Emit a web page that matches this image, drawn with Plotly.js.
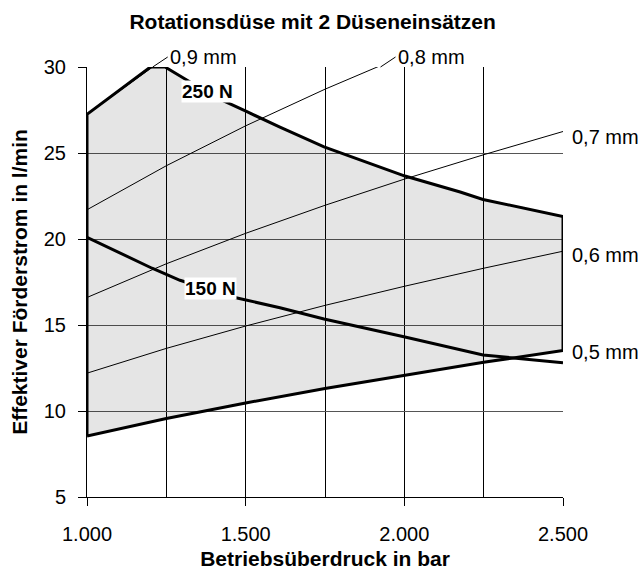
<!DOCTYPE html>
<html>
<head>
<meta charset="utf-8">
<script src="https://cdn.plot.ly/plotly-3.0.1.min.js"></script>
<style>html,body{margin:0;padding:0;background:#fff;}#chart{width:642px;height:576px;}</style>
</head>
<body>
<div id="chart"></div>
<script>
// ---- data ----
const pressure = [1000, 1250, 1500, 1750, 2000, 2250, 2500];
const nozzle05 = [8.55, 9.56, 10.47, 11.31, 12.09, 12.83, 13.52];
const nozzle06 = [12.2, 13.64, 14.94, 16.14, 17.25, 18.3, 19.29];
const nozzle07 = [16.6, 18.56, 20.33, 21.96, 23.48, 24.9, 26.25];
const pressure08 = [1000, 1250, 1500, 1750, 1940];
const nozzle08 = [21.7, 24.26, 26.58, 28.71, 30.2];
const pressure09 = [1000, 1100, 1207];
const nozzle09 = [27.25, 28.58, 30.0];
const pressure250 = [1000, 1200, 1246, 1309, 1410, 1504, 1608, 1747, 2002, 2176, 2248, 2500];
const force250 = [27.25, 30, 30, 29.3, 28.2, 27.4, 26.5, 25.35, 23.66, 22.73, 22.3, 21.3];
const pressure150 = [1000, 1205, 1293, 1466, 1608, 1747, 2002, 2144, 2248, 2500];
const force150 = [20.1, 18.3, 17.6, 16.6, 16.0, 15.35, 14.3, 13.72, 13.26, 12.8];
const nozzleLabels = ['0,9 mm', '0,8 mm', '0,7 mm', '0,6 mm', '0,5 mm'];
const forceLabels = ['250 N', '150 N'];
const xTickVals = [1000, 1500, 2000, 2500];
const xTickText = ['1.000', '1.500', '2.000', '2.500'];
const yTickVals = [5, 10, 15, 20, 25, 30];

// ---- operating region polygon (left edge, 250 N curve, right edge, 0,5 mm line) ----
const polyX = [pressure[0]].concat(pressure250, pressure.slice().reverse());
const polyY = [nozzle05[0]].concat(force250, nozzle05.slice().reverse());

const thin = {color: '#000', width: 1};
const traces = [
  {x: polyX, y: polyY, mode: 'lines', fill: 'toself', fillcolor: 'rgba(0,0,0,0.1)',
   line: {color: '#000', width: 3}, hoverinfo: 'skip'},
  {x: pressure09, y: nozzle09, mode: 'lines', line: thin},
  {x: pressure08, y: nozzle08, mode: 'lines', line: thin},
  {x: pressure, y: nozzle07, mode: 'lines', line: thin},
  {x: pressure, y: nozzle06, mode: 'lines', line: thin},
  {x: pressure150, y: force150, mode: 'lines', line: {color: '#000', width: 3}}
];

const F = 'Liberation Sans, Arial, Helvetica, sans-serif';
const annotations = [
  {x: 1207, y: 30, xref: 'x', yref: 'y', ax: 15, ay: -10, showarrow: true, arrowhead: 0,
   arrowwidth: 1, arrowcolor: '#000', standoff: 0, xanchor: 'left', yanchor: 'middle',
   text: nozzleLabels[0], font: {size: 20}},
  {x: 1925, y: 30, xref: 'x', yref: 'y', ax: 15, ay: -10, showarrow: true, arrowhead: 0,
   arrowwidth: 1, arrowcolor: '#000', standoff: 0, xanchor: 'left', yanchor: 'middle',
   text: nozzleLabels[1], font: {size: 20}},
  {x: 2500, y: nozzle07[nozzle07.length - 1], xref: 'x', yref: 'y', showarrow: false,
   xanchor: 'left', xshift: 7, yshift: -5, text: nozzleLabels[2], font: {size: 20}},
  {x: 2500, y: nozzle06[nozzle06.length - 1], xref: 'x', yref: 'y', showarrow: false,
   xanchor: 'left', xshift: 7, yshift: -4, text: nozzleLabels[3], font: {size: 20}},
  {x: 2500, y: nozzle05[nozzle05.length - 1], xref: 'x', yref: 'y', showarrow: false,
   xanchor: 'left', xshift: 7, yshift: -2, text: nozzleLabels[4], font: {size: 20}},
  {x: 1380, y: 28.6, xref: 'x', yref: 'y', showarrow: false, bgcolor: '#fff', borderpad: 0,
   text: forceLabels[0], font: {size: 19, weight: 'bold'}},
  {x: 1388, y: 17.12, xref: 'x', yref: 'y', showarrow: false, bgcolor: '#fff', borderpad: 0,
   text: forceLabels[1], font: {size: 19, weight: 'bold'}}
];

const layout = {
  width: 642, height: 576,
  margin: {l: 87, r: 79, t: 67, b: 79},
  paper_bgcolor: '#fff', plot_bgcolor: '#fff',
  showlegend: false,
  font: {family: F, size: 20, color: '#000'},
  title: {text: 'Rotationsdüse mit 2 Düseneinsätzen', font: {family: F, size: 21, weight: 'bold', color: '#000'},
          x: 0.474, xref: 'paper', xanchor: 'center', y: 0.962, yref: 'container', yanchor: 'middle'},
  xaxis: {range: [1000, 2500], tickmode: 'array', tickvals: xTickVals, ticktext: xTickText,
          ticks: 'outside', ticklen: 8, tickcolor: '#000', tickwidth: 1,
          showline: true, linecolor: '#000', linewidth: 1, zeroline: false,
          showgrid: true, gridcolor: '#000', gridwidth: 1,
          minor: {dtick: 250, tick0: 1000, showgrid: true, gridcolor: '#000', gridwidth: 1, ticks: ''},
          ticklabelstandoff: 11, tickfont: {size: 20},
          title: {text: 'Betriebsüberdruck in bar', font: {size: 21, weight: 'bold'}, standoff: 7}},
  yaxis: {range: [5, 30], tickmode: 'array', tickvals: yTickVals,
          ticks: 'outside', ticklen: 8, tickcolor: '#000', tickwidth: 1,
          showline: true, linecolor: '#000', linewidth: 1, zeroline: false,
          showgrid: true, gridcolor: '#555', gridwidth: 1,
          ticklabelstandoff: 8, tickfont: {size: 20},
          title: {text: 'Effektiver Förderstrom in l/min', font: {size: 21, weight: 'bold'}, standoff: 10}},
  annotations: annotations
};

Plotly.newPlot('chart', traces, layout, {displayModeBar: false, staticPlot: true});
</script>
</body>
</html>
